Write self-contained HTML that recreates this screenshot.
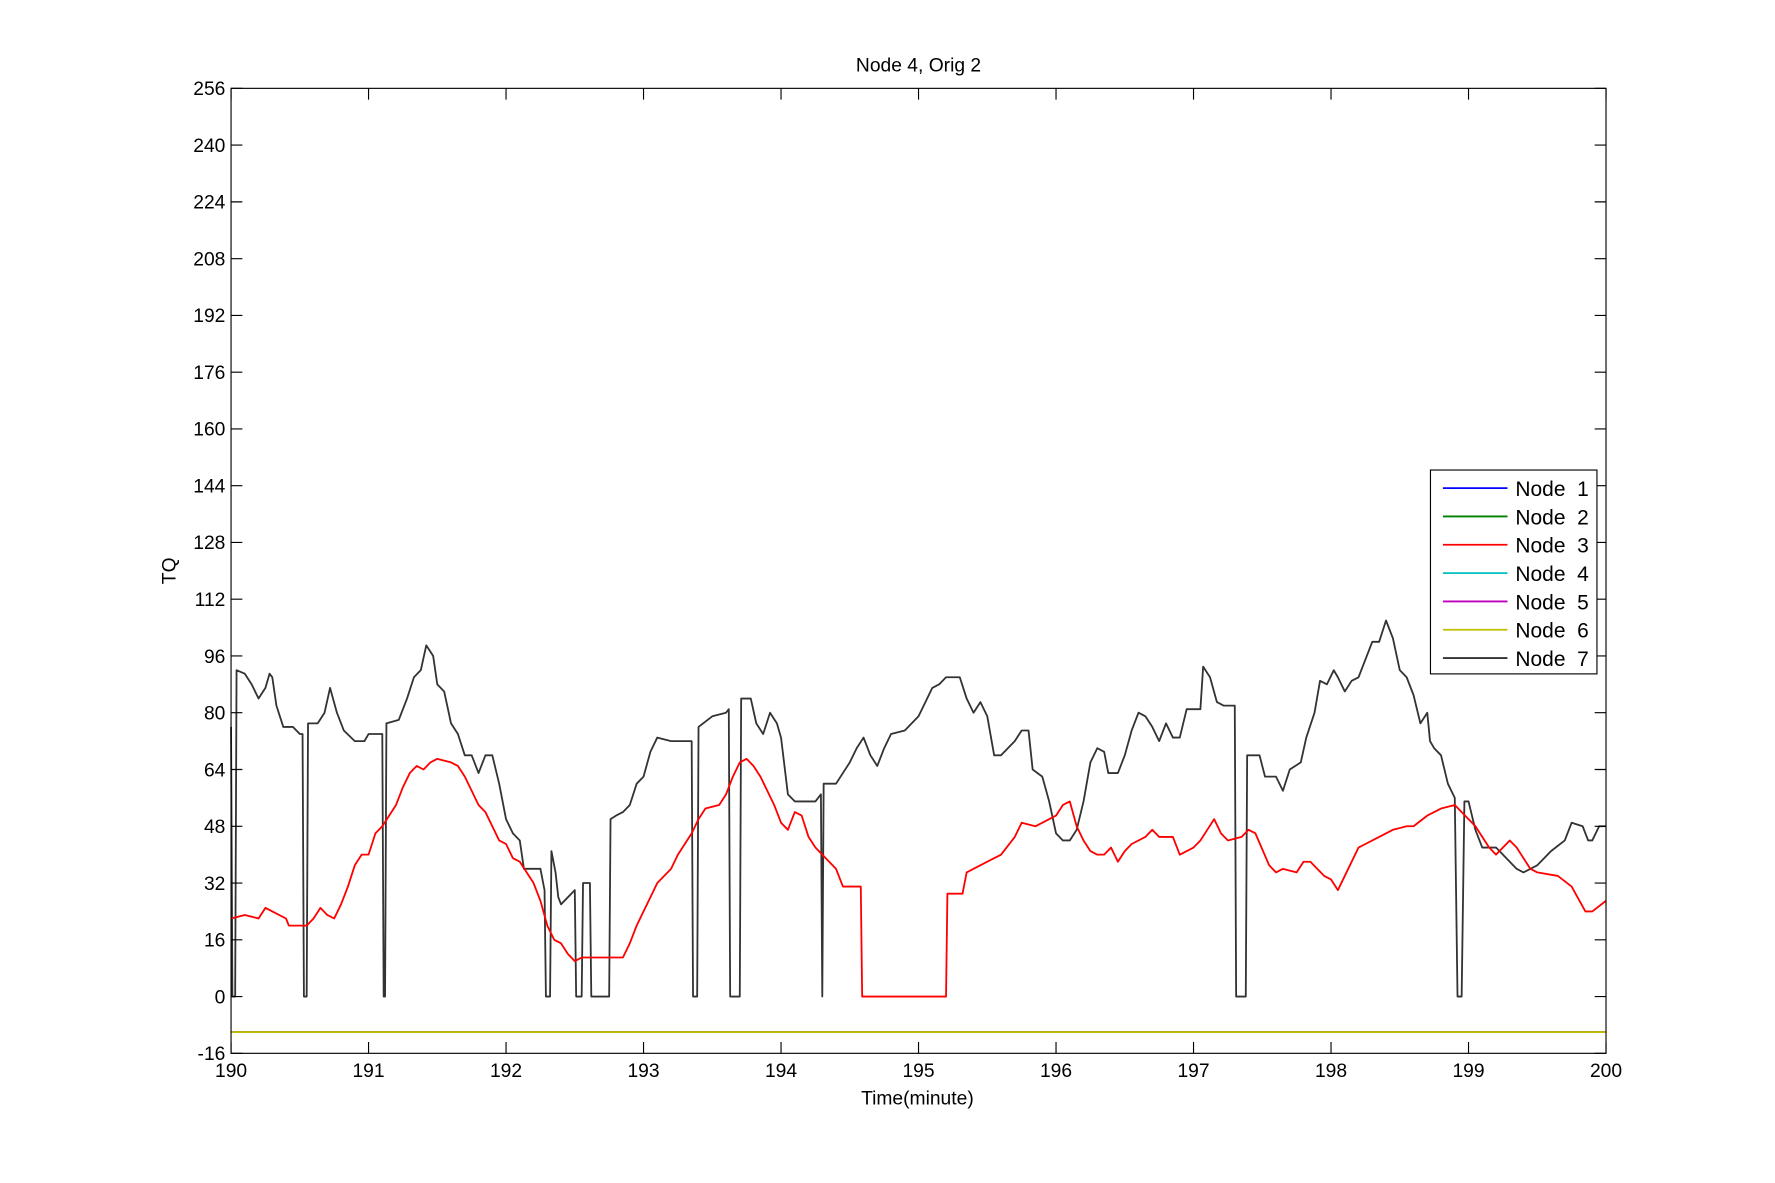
<!DOCTYPE html>
<html><head><meta charset="utf-8"><title>Node 4, Orig 2</title>
<style>html,body{margin:0;padding:0;background:#fff;}svg{display:block;font-family:"Liberation Sans",Arial,sans-serif;}</style>
</head><body>
<svg id="chart" width="1775" height="1183" viewBox="0 0 1567.2 1044.5" xmlns="http://www.w3.org/2000/svg">
<rect width="1567.2" height="1044.5" fill="#fff"/>
<g id="grid"></g>
<g id="series"></g>
<rect x="204" y="78" width="1214" height="852" fill="none" stroke="#000" stroke-width="1"/>
<g id="ticks"></g>
<text x="811" y="63" text-anchor="middle" font-size="17">Node 4, Orig 2</text>
<text x="810" y="975" text-anchor="middle" font-size="17">Time(minute)</text>
<text transform="translate(155,504) rotate(-90)" text-anchor="middle" font-size="17">TQ</text>
<g id="legend"></g>
</svg>
<script>
const xTicks=[190,191,192,193,194,195,196,197,198,199,200];
const yTicks=[-16,0,16,32,48,64,80,96,112,128,144,160,176,192,208,224,240,256];
const seriesNames=["Node  1","Node  2","Node  3","Node  4","Node  5","Node  6","Node  7"];
const seriesColors=["#0000ff","#007f00","#ff0000","#00bfbf","#bf00bf","#bfbf00","#333333"];
const constT=[190,200];
const node1V=[-10,-10];
const node2V=[-10,-10];
const node4V=[-10,-10];
const node5V=[-10,-10];
const node6V=[-10,-10];
const node7T=[190.00,190.01,190.03,190.04,190.1,190.15,190.2,190.25,190.28,190.3,190.33,190.38,190.45,190.5,190.52,190.53,190.55,190.56,190.63,190.68,190.72,190.77,190.82,190.9,190.97,191.0,191.1,191.11,191.12,191.13,191.22,191.28,191.33,191.38,191.42,191.47,191.5,191.55,191.6,191.65,191.7,191.75,191.8,191.85,191.9,191.95,192.0,192.05,192.1,192.13,192.25,192.28,192.29,192.32,192.33,192.36,192.38,192.4,192.5,192.51,192.55,192.56,192.61,192.62,192.75,192.76,192.8,192.85,192.9,192.95,193.0,193.05,193.1,193.2,193.35,193.36,193.39,193.4,193.5,193.6,193.62,193.63,193.7,193.71,193.78,193.82,193.87,193.92,193.97,194.0,194.05,194.1,194.25,194.29,194.3,194.31,194.4,194.5,194.55,194.6,194.65,194.7,194.75,194.8,194.9,195.0,195.05,195.1,195.15,195.2,195.3,195.35,195.4,195.45,195.5,195.55,195.6,195.7,195.75,195.8,195.83,195.9,195.95,196.0,196.05,196.1,196.15,196.2,196.25,196.3,196.35,196.38,196.45,196.5,196.55,196.6,196.65,196.7,196.75,196.8,196.85,196.9,196.95,197.05,197.07,197.12,197.17,197.22,197.3,197.31,197.38,197.39,197.48,197.52,197.6,197.65,197.7,197.78,197.82,197.88,197.92,197.97,198.02,198.05,198.1,198.15,198.2,198.25,198.3,198.35,198.4,198.45,198.5,198.55,198.6,198.65,198.7,198.72,198.75,198.8,198.85,198.9,198.92,198.95,198.97,199.0,199.05,199.1,199.2,199.3,199.35,199.4,199.5,199.6,199.7,199.75,199.83,199.87,199.9,199.95,200];
const node7V=[76,0,0,92,91,88,84,87,91,90,82,76,76,74,74,0,0,77,77,80,87,80,75,72,72,74,74,0,0,77,78,84,90,92,99,96,88,86,77,74,68,68,63,68,68,60,50,46,44,36,36,30,0,0,41,35,28,26,30,0,0,32,32,0,0,50,51,52,54,60,62,69,73,72,72,0,0,76,79,80,81,0,0,84,84,77,74,80,77,73,57,55,55,57,0,60,60,66,70,73,68,65,70,74,75,79,83,87,88,90,90,84,80,83,79,68,68,72,75,75,64,62,55,46,44,44,47,55,66,70,69,63,63,68,75,80,79,76,72,77,73,73,81,81,93,90,83,82,82,0,0,68,68,62,62,58,64,66,73,80,89,88,92,90,86,89,90,95,100,100,106,101,92,90,85,77,80,72,70,68,60,56,0,0,55,55,47,42,42,38,36,35,37,41,44,49,48,44,44,48,48];
const node3T=[190.0,190.1,190.2,190.25,190.3,190.4,190.42,190.55,190.6,190.65,190.7,190.75,190.8,190.85,190.9,190.95,191.0,191.05,191.1,191.15,191.2,191.25,191.3,191.35,191.4,191.45,191.5,191.6,191.65,191.7,191.75,191.8,191.85,191.9,191.95,192.0,192.05,192.1,192.15,192.2,192.25,192.3,192.35,192.4,192.45,192.5,192.55,192.6,192.85,192.9,192.95,193.0,193.05,193.1,193.2,193.25,193.3,193.35,193.4,193.45,193.55,193.6,193.65,193.7,193.75,193.8,193.85,193.9,193.95,194.0,194.05,194.1,194.15,194.2,194.25,194.3,194.35,194.4,194.45,194.58,194.59,195.2,195.21,195.32,195.35,195.4,195.5,195.6,195.7,195.75,195.85,195.95,196.0,196.05,196.1,196.15,196.2,196.25,196.3,196.35,196.4,196.45,196.5,196.55,196.65,196.7,196.75,196.85,196.9,197.0,197.05,197.1,197.15,197.2,197.25,197.35,197.4,197.45,197.55,197.6,197.65,197.75,197.8,197.85,197.9,197.95,198.0,198.05,198.1,198.15,198.2,198.25,198.35,198.45,198.55,198.6,198.7,198.8,198.9,199.0,199.05,199.1,199.15,199.2,199.3,199.35,199.45,199.5,199.65,199.75,199.85,199.9,200];
const node3V=[22,23,22,25,24,22,20,20,22,25,23,22,26,31,37,40,40,46,48,51,54,59,63,65,64,66,67,66,65,62,58,54,52,48,44,43,39,38,35,32,27,20,16,15,12,10,11,11,11,15,20,24,28,32,36,40,43,46,50,53,54,57,62,66,67,65,62,58,54,49,47,52,51,45,42,40,38,36,31,31,0,0,29,29,35,36,38,40,45,49,48,50,51,54,55,48,44,41,40,40,42,38,41,43,45,47,45,45,40,42,44,47,50,46,44,45,47,46,37,35,36,35,38,38,36,34,33,30,34,38,42,43,45,47,48,48,51,53,54,50,48,45,42,40,44,42,36,35,34,31,24,24,27];

const X0=204,X1=1418,Y0=930,Y1=78;
function xs(t){return X0+(t-190)/10*(X1-X0);}
function ys(v){return Y0-(v+16)/272*(Y0-Y1);}
const NS="http://www.w3.org/2000/svg";
function mk(tag,attrs,parent){const e=document.createElementNS(NS,tag);for(const k in attrs)e.setAttribute(k,attrs[k]);parent.appendChild(e);return e;}
const ticks=document.getElementById('ticks');
xTicks.forEach(t=>{
  const x=xs(t);
  const l=mk('path',{d:`M${x},${Y0}v-10M${x},${Y1}v10`,stroke:'#000','stroke-width':1},ticks);
  
  
  const tx=mk('text',{x:x,y:Y0+21,'text-anchor':'middle','font-size':17},ticks);
  tx.textContent=t;
  
  
});
yTicks.forEach(v=>{
  const y=ys(v);
  const l=mk('path',{d:`M${X0},${y}h10M${X1},${y}h-10`,stroke:'#000','stroke-width':1},ticks);
  
  
  const tx=mk('text',{x:X0-5,y:y+6,'text-anchor':'end','font-size':17},ticks);
  tx.textContent=v;
  
  
});
const seriesG=document.getElementById('series');
const data=[[constT,node1V],[constT,node2V],[node3T,node3V],[constT,node4V],[constT,node5V],[constT,node6V],[node7T,node7V]];
const order=[0,1,3,4,5,6,2];
order.forEach(i=>{
  const [T,V]=data[i];
  const d=T.map((t,k)=>(k?'L':'M')+xs(t).toFixed(2)+','+ys(V[k]).toFixed(2)).join('');
  const p=mk('path',{d:d,fill:'none',stroke:seriesColors[i],'stroke-width':1.6,'stroke-linejoin':'round'},seriesG);
  
  
});
const leg=document.getElementById('legend');
const lb=mk('rect',{x:1263,y:415,width:147,height:180,fill:'#fff',stroke:'#000','stroke-width':1},leg);


seriesNames.forEach((n,i)=>{
  const y=431+i*25;
  const l=mk('line',{x1:1274,x2:1331,y1:y,y2:y,stroke:seriesColors[i],'stroke-width':1.6},leg);
  
  
  const t=mk('text',{x:1338,y:y+7,'font-size':18.5},leg);
  t.setAttribute('style','white-space:pre');
  t.textContent=n;
  
  
});
</script>
</body></html>
